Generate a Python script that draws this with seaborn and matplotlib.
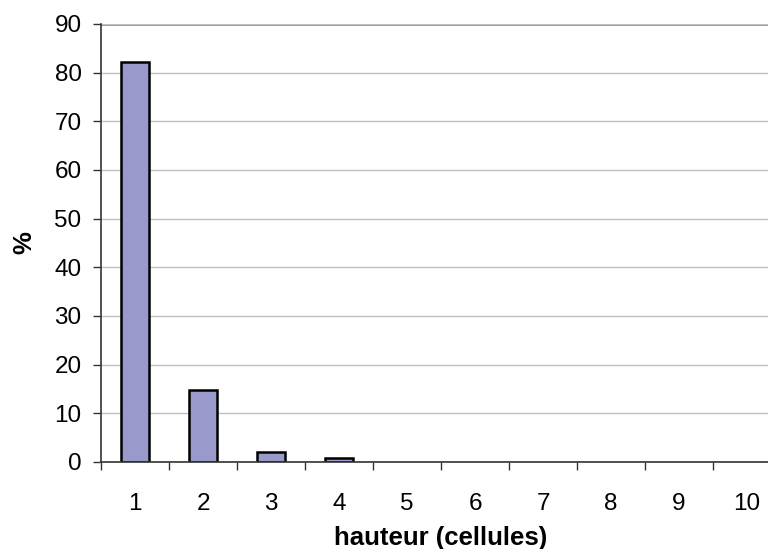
import seaborn as sns
import matplotlib.pyplot as plt
import pandas as pd

hauteur = ['1', '2', '3', '4', '5', '6', '7', '8', '9', '10']
pourcent = [82.1, 14.8, 2.0, 0.8, 0, 0, 0, 0, 0, 0]

sns.set_style('white')
plt.rcParams['font.family'] = ['Liberation Sans', 'DejaVu Sans']

df = pd.DataFrame({'hauteur': hauteur, 'pourcent': pourcent})

fig = plt.figure(figsize=(7.68, 5.49), dpi=100)
ax = fig.add_axes([101 / 768, 87 / 549, 680 / 768, 438 / 549])

ax.yaxis.grid(True, color='#c0c0c0', linewidth=1)
ax.set_axisbelow(True)
sns.barplot(data=df, x='hauteur', y='pourcent', color='#9999cc', saturation=1,
            edgecolor='black', linewidth=1.8, width=0.41, ax=ax)
# pas de contour pour les barres nulles
for p in ax.patches:
    if p.get_height() == 0:
        p.set_linewidth(0)

ax.set_ylim(0, 90)
ax.set_xlim(-0.5, 9.5)
ax.set_yticks(range(0, 91, 10))
ax.axhline(90, color='#888888', linewidth=2, zorder=0)
for s in ['top', 'right']:
    ax.spines[s].set_visible(False)
for s in ['left', 'bottom']:
    ax.spines[s].set_color('#333333')
    ax.spines[s].set_linewidth(1.2)

# graduations entre les catégories
ax.set_xticks([i - 0.5 for i in range(11)], minor=False)
ax.set_xticklabels([])
ax.set_xticks(range(10), minor=True)
ax.set_xticklabels(hauteur, minor=True)
ax.tick_params(axis='x', which='major', direction='out', length=6, width=1, color='#333333', bottom=True)
ax.tick_params(axis='x', which='minor', length=0, labelsize=17.5, pad=22, bottom=True, labelcolor='black')
ax.tick_params(axis='y', direction='out', length=6, width=1, color='#333333', labelsize=17.5, left=True, pad=8, labelcolor='black')

ax.set_xlabel('hauteur (cellules)', fontsize=18.5, fontweight='bold', labelpad=8, color='black')
ax.set_ylabel('%', fontsize=18.5, fontweight='bold', labelpad=13, color='black')

fig.savefig('out.png', dpi=100)
